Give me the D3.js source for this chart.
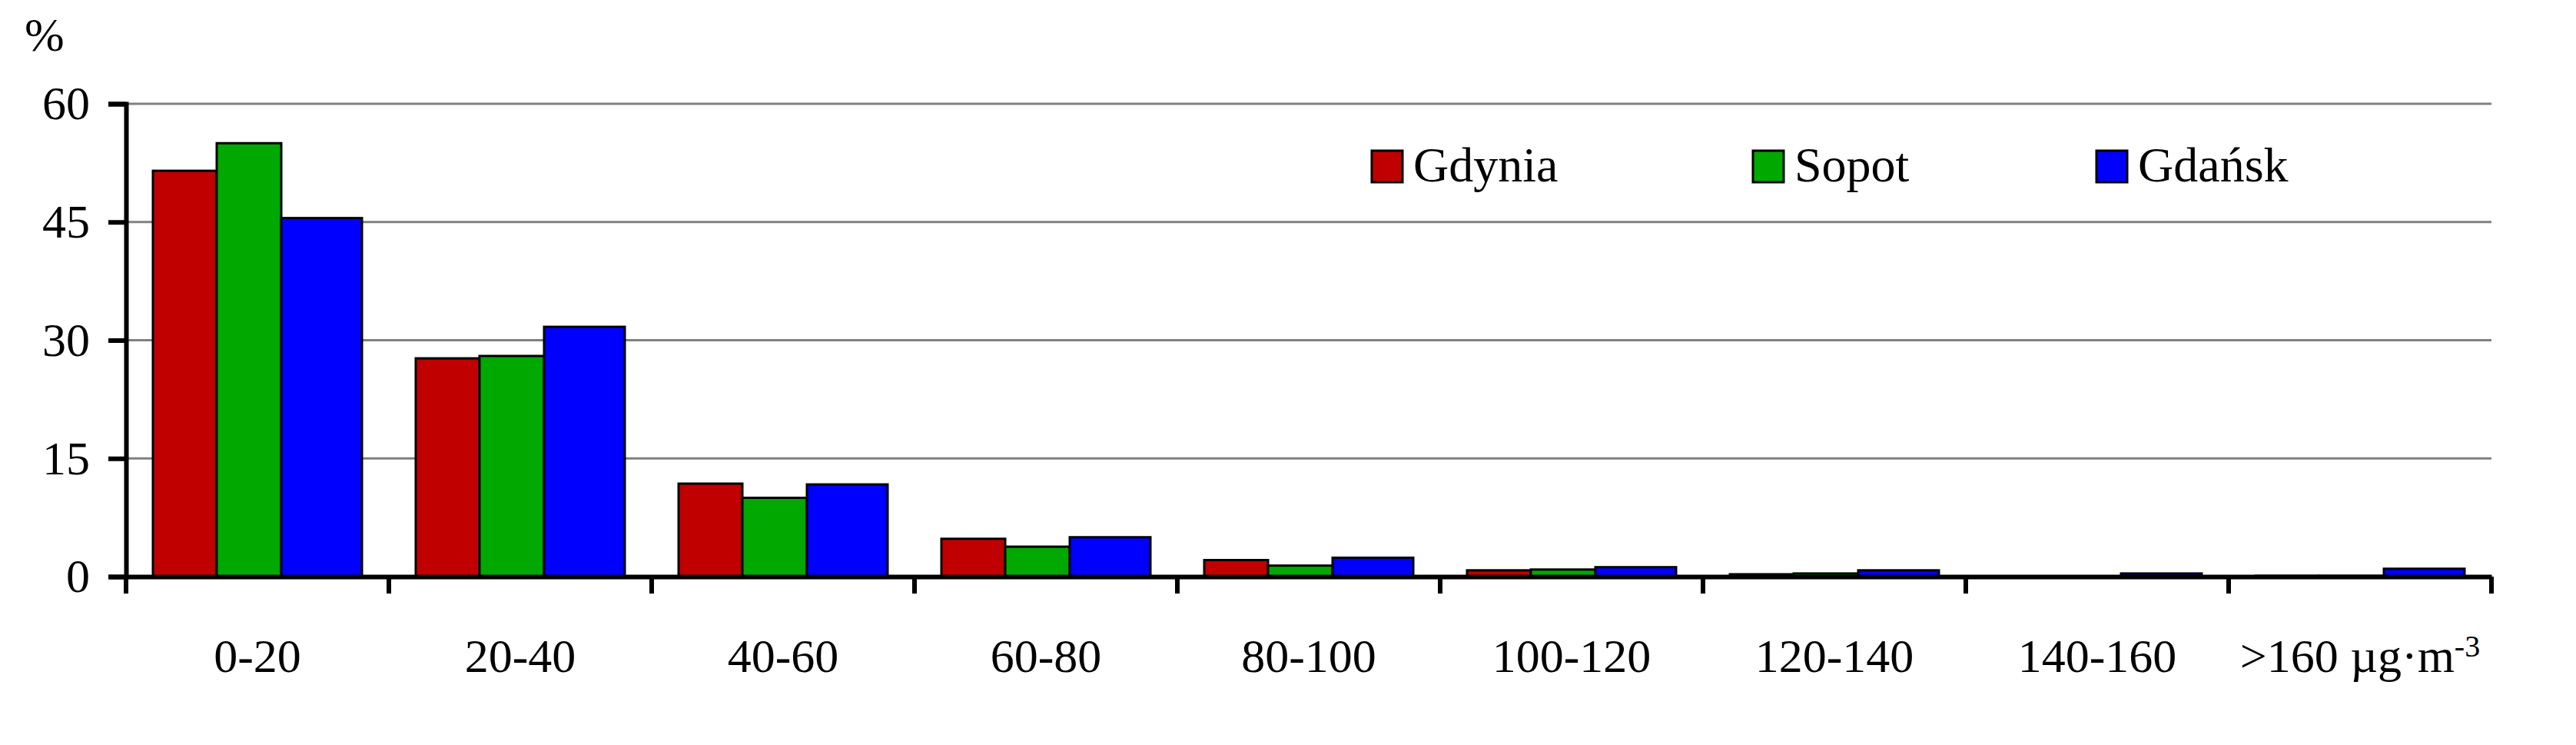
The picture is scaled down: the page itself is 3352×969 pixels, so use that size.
<!DOCTYPE html>
<html><head><meta charset="utf-8">
<script src="https://cdn.jsdelivr.net/npm/d3@7"></script>
<style>body{margin:0;background:#fff}text{font-family:"Liberation Serif","DejaVu Serif",serif}</style>
</head><body><div id="chart"></div>
<script>
const categories = ["0-20","20-40","40-60","60-80","80-100","100-120","120-140","140-160",">160"];
const gdynia = [51.5, 27.7, 11.8, 4.8, 2.1, 0.8, 0.3, 0, 0.1];
const sopot  = [55.0, 28.0, 10.0, 3.8, 1.4, 0.9, 0.4, 0, 0.1];
const gdansk = [45.5, 31.7, 11.7, 5.0, 2.4, 1.2, 0.8, 0.4, 1.0];
const seriesNames = ["Gdynia","Sopot","Gdańsk"];
const colors = ["#c00000","#00a800","#0000ff"];
const yTicks = [0,15,30,45,60];

const W = 3352, H = 969;
const plotLeft = 164, plotRight = 3242, plotTop = 135, plotBottom = 750;
const svg = d3.select("#chart").append("svg").attr("width", W).attr("height", H);

const x = d3.scaleBand().domain(categories).range([plotLeft, plotRight]);
const y = d3.scaleLinear().domain([0, 60]).range([plotBottom, plotTop]);

// gridlines
svg.append("g").selectAll("line").data(yTicks.filter(d => d > 0)).join("line")
  .attr("x1", plotLeft).attr("x2", plotRight).attr("y1", d => y(d)).attr("y2", d => y(d))
  .attr("stroke", "#808080").attr("stroke-width", 3);

// bars: offsets within category (band 342 wide)
const bw = x.bandwidth();
const offs = [35/342, 118/342, 202/342], widths = [83/342, 84/342, 105/342];
[gdynia, sopot, gdansk].forEach((vals, s) => {
  svg.append("g").selectAll("rect").data(vals).join("rect")
    .attr("x", (d, i) => x(categories[i]) + offs[s] * bw)
    .attr("width", widths[s] * bw)
    .attr("y", d => y(d)).attr("height", d => y(0) - y(d))
    .attr("fill", colors[s]).attr("stroke", "#000").attr("stroke-width", 3);
});

// y axis
const ya = svg.append("g").attr("transform", `translate(${plotLeft},0)`)
  .call(d3.axisLeft(y).tickValues(yTicks).tickSize(23).tickPadding(24));
ya.select(".domain").attr("stroke-width", 6);
ya.selectAll(".tick line").attr("stroke-width", 6);
ya.selectAll("text").attr("font-size", 62).attr("font-family", "Liberation Serif").attr("dy", "0.32em");

// x axis
const xa = svg.append("g").attr("transform", `translate(0,${plotBottom})`)
  .call(d3.axisBottom(x).tickSize(0).tickPadding(80)
    .tickFormat(d => d === ">160" ? ">160 µg·m" : d));
xa.select(".domain").attr("stroke-width", 6);
xa.selectAll("text").attr("font-size", 62).attr("font-family", "Liberation Serif");
xa.selectAll(".tick text").filter(d => d === ">160").append("tspan")
  .attr("dy", "-0.5em").attr("font-size", 40).text("-3");
const bounds = categories.map(c => x(c)).concat([plotRight]);
svg.append("g").selectAll("line").data(bounds).join("line")
  .attr("x1", d => d).attr("x2", d => d).attr("y1", plotBottom).attr("y2", plotBottom + 22)
  .attr("stroke", "#000").attr("stroke-width", 6);

svg.append("text").attr("x", 32).attr("y", 66).attr("font-size", 62).text("%");

// legend
const lx = [1785, 2281, 2728];
seriesNames.forEach((n, i) => {
  svg.append("rect").attr("x", lx[i]).attr("y", 196).attr("width", 40).attr("height", 41)
    .attr("fill", colors[i]).attr("stroke", "#000").attr("stroke-width", 3);
  svg.append("text").attr("x", lx[i] + 54).attr("y", 236).attr("font-size", 64).text(n);
});
</script></body></html>
